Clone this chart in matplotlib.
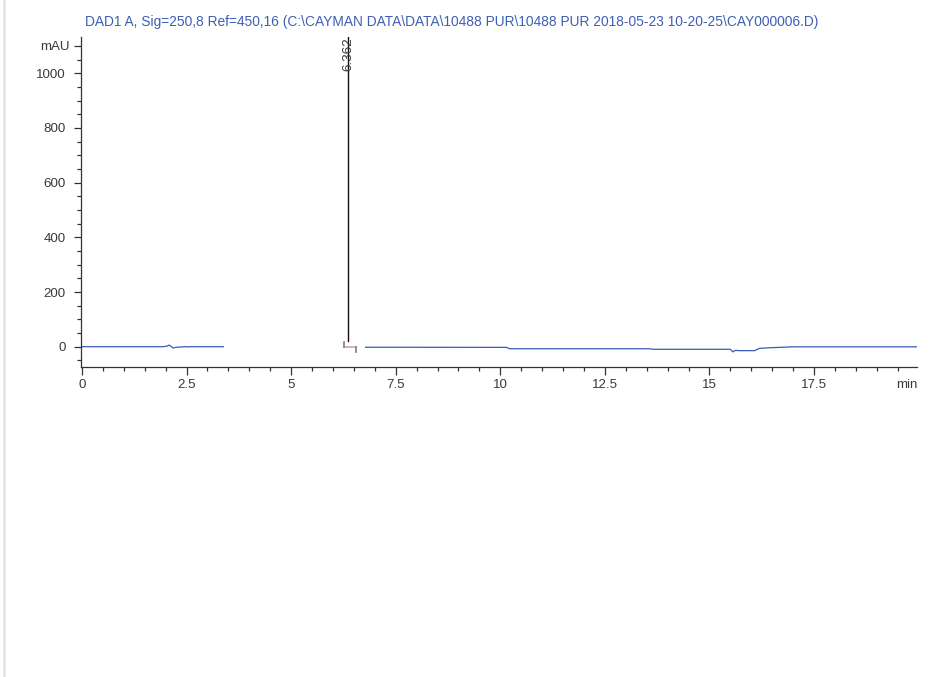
import matplotlib
matplotlib.use("Agg")
import matplotlib.pyplot as plt
from matplotlib.ticker import MultipleLocator, FixedLocator
from matplotlib.lines import Line2D
from matplotlib.transforms import offset_copy, ScaledTranslation

plt.rcParams['font.family'] = ['Liberation Sans', 'DejaVu Sans']

title = r"DAD1 A, Sig=250,8 Ref=450,16 (C:\CAYMAN DATA\DATA\10488 PUR\10488 PUR 2018-05-23 10-20-25\CAY000006.D)"

# Chromatogram segments (time in min, signal in mAU)
seg1_t = [0.0, 1.95, 2.03, 2.08, 2.13, 2.18, 2.25, 2.40, 2.48, 2.52, 2.60, 3.38]
seg1_y = [0.0, 0.0, 2.0, 6.0, 1.0, -5.0, -2.0, -1.0, 0.5, -1.0, 0.0, 0.0]

seg2_t = [6.78, 10.15, 10.22, 13.58, 13.64, 15.50, 15.56, 15.62, 15.72, 16.08, 16.20, 16.50, 17.00, 19.97]
seg2_y = [-2.0, -2.5, -7.5, -7.5, -9.5, -9.5, -19.0, -13.5, -14.5, -14.5, -6.0, -3.5, -0.5, -0.5]

# Main peak
peak_rt = 6.362
peak_label = "6.362"
peak_y = [21.0, 3000.0]
# Integration baseline
base_t = [6.27, 6.56]
base_y = [0.0, 0.0]

xticks = [0, 2.5, 5, 7.5, 10, 12.5, 15, 17.5]
xticklabels = ["0", "2.5", "5", "7.5", "10", "12.5", "15", "17.5"]
yticks = [0, 200, 400, 600, 800, 1000, 1100]
yticklabels = ["0", "200", "400", "600", "800", "1000", "mAU"]

W, H = 943, 677
fs = 9.6
txt_col = "#3a3a3a"
fig = plt.figure(figsize=(W / 100, H / 100), dpi=100)
ax = fig.add_axes([80.7 / W, 1 - 366.7 / H, (917.3 - 80.7) / W, (366.7 - 37) / H])

line_col = "#3b5cb5"
ax.plot(seg1_t, seg1_y, color=line_col, lw=0.9)
ax.plot(seg2_t, seg2_y, color=line_col, lw=0.9)
ax.plot([peak_rt, peak_rt], peak_y, color="#111111", lw=1.0)
ax.plot(base_t, base_y, color="#d79ccd", lw=1.2)
# start / end markers
ax.plot([base_t[0], base_t[0]], [base_y[0], base_y[0] + 18], color="#808080", lw=1.2)
ax.plot([base_t[1], base_t[1]], [base_y[1], base_y[1] - 18], color="#808080", lw=1.2)

ax.text(peak_rt, 1010, peak_label, rotation=90, ha="center", va="bottom",
        fontsize=fs, color=txt_col)

ax.set_xlim(-0.031, 19.97)
ax.set_ylim(-73.2, 1132.8)

ax.spines["top"].set_visible(False)
ax.spines["right"].set_visible(False)
for s in ("left", "bottom"):
    ax.spines[s].set_color("#333333")
    ax.spines[s].set_linewidth(0.9)

ax.xaxis.set_major_locator(FixedLocator(xticks))
ax.set_xticklabels(xticklabels)
ax.xaxis.set_minor_locator(MultipleLocator(0.5))
ax.yaxis.set_major_locator(FixedLocator(yticks))
ax.set_yticklabels(yticklabels)
ax.yaxis.set_minor_locator(MultipleLocator(50))

ax.tick_params(axis="both", which="major", length=5, width=0.9, color="#333333",
               labelsize=fs, labelcolor=txt_col)
ax.tick_params(axis="both", which="minor", length=3, width=0.9, color="#333333")
ax.tick_params(axis="x", which="major", pad=3, length=5.5)
ax.tick_params(axis="y", which="major", pad=6)

# shift the "mAU" label closer to the axis
for lab in ax.get_yticklabels():
    if lab.get_text() == "mAU":
        lab.set_transform(lab.get_transform() + ScaledTranslation(4 / 100, 0, fig.dpi_scale_trans))

ax.text(19.97, 0, "min", ha="right", va="top", fontsize=fs, color=txt_col,
        transform=offset_copy(ax.get_xaxis_transform(), fig=fig, x=0, y=-8.5, units="points"))

fig.text(85 / W, 1 - 22 / H, title, ha="left", va="center", fontsize=9.9, color="#3d5fb5")

# light left border
fig.add_artist(Line2D([3.5 / W, 3.5 / W], [0, 1], color="#e2e2e2", lw=1.8))

fig.savefig("out.png", dpi=100)
